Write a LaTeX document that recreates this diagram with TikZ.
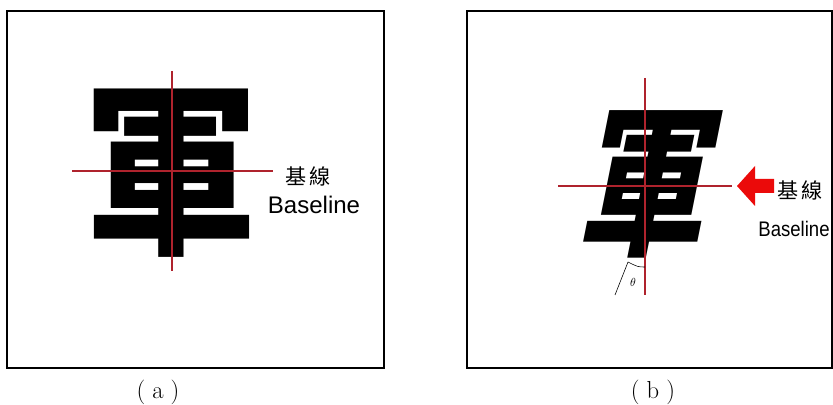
\documentclass[tikz,border=0pt]{standalone}
\usepackage{fontspec}
\setsansfont{Liberation Sans}
\newfontfamily\cjk{Noto Sans CJK TC}
\definecolor{guidered}{RGB}{175,35,45}
\definecolor{arrowred}{RGB}{235,10,10}

\begin{document}
\begin{tikzpicture}[x=0.03cm,y=-0.03cm,
  frame/.style={draw,line width=1.1pt},
  guide/.style={draw=guidered,line width=1.5pt},
  glyph/.style={inner sep=0pt,font=\cjk\bfseries\fontsize{150}{150}\selectfont},
  tag/.style={inner sep=0pt,font=\cjk\fontsize{18}{18}\selectfont},
  eng/.style={inner sep=0pt,font=\sffamily\fontsize{20.5}{20.5}\selectfont},
  sublabel/.style={inner sep=0pt,font=\fontsize{21}{21}\selectfont}]
\useasboundingbox (0,0) rectangle (833,405);

% panel (a)
\draw[frame] (7,11) rectangle (384,368);
\node[glyph,yscale=1.05] (chA) at (171,173) {軍};
\coordinate (a-top) at (172,71);
\coordinate (a-bot) at (172,271);
\coordinate (a-left) at (72,171);
\coordinate (a-right) at (273,171);
\draw[guide] (a-top) -- (a-bot);
\draw[guide] (a-left) -- (a-right);
\node[tag] (jxA) at (308,176) {基\,線};
\node[eng] (blA) at (314,205) {Baseline};
\node[sublabel] (capA) at (158,392) {(\kern6pt a\kern6pt)};

% panel (b)
\draw[frame] (467,11) rectangle (832,368);
\node[glyph,font=\cjk\bfseries\fontsize{138}{138}\selectfont,xscale=0.8,xslant=0.25] (chB) at (652,184) {軍};
\coordinate (b-top) at (645,78);
\coordinate (b-bot) at (645,295);
\coordinate (b-left) at (558,186);
\coordinate (b-right) at (732,186);
\draw[guide] (b-top) -- (b-bot);
\draw[guide] (b-left) -- (b-right);
\coordinate (tail) at (628,262);
\coordinate (tip) at (615,295);
\draw[line width=0.5pt] (tail) -- (tip);
\draw[line width=0.5pt] (tail) .. controls (638,267) .. (645,267);
\node[inner sep=0pt,font=\sffamily\fontsize{10}{10}\selectfont] (theta) at (633,282) {$\theta$};
\fill[arrowred] (737,186) -- (755,166) -- (755,179) -- (774,179) -- (774,193) -- (755,193) -- (755,206) -- cycle;
\node[tag] (jxB) at (800,190) {基\,線};
\node[eng,font=\sffamily\fontsize{18}{18}\selectfont,xscale=0.88] (blB) at (794,229) {Baseline};
\node[sublabel] (capB) at (653,392) {(\kern6pt b\kern6pt)};
\end{tikzpicture}
\end{document}
